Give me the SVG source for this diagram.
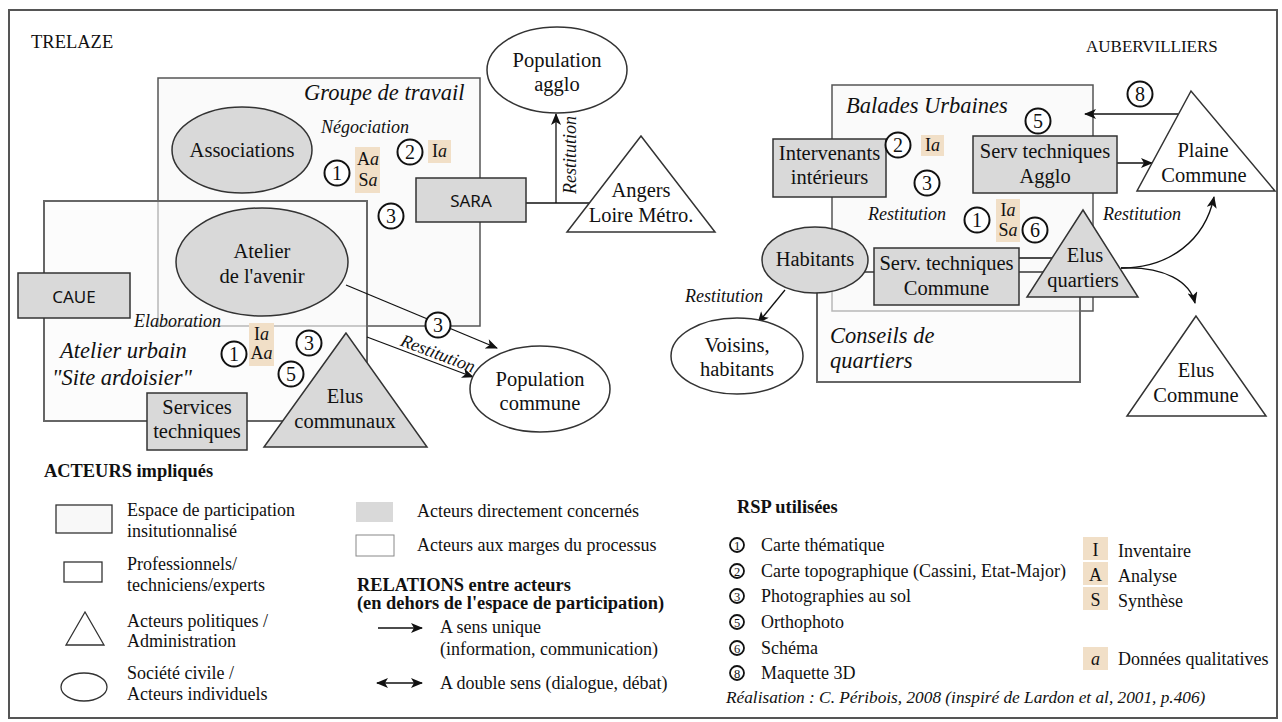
<svg xmlns="http://www.w3.org/2000/svg" width="1282" height="722" viewBox="0 0 1282 722">
<defs>
<marker id="arr" viewBox="0 0 12 10" refX="11" refY="5" markerWidth="13" markerHeight="10" markerUnits="userSpaceOnUse" orient="auto-start-reverse">
<path d="M0,0 L12,5 L0,10 L3,5 Z" fill="#111"/>
</marker>
</defs>
<style>
text{font-family:"Liberation Serif","Times New Roman",serif;fill:#111}
.lbl{font-size:20.5px;text-anchor:middle}
.sans{font-family:"Noto Sans","DejaVu Sans",sans-serif;font-size:17px;text-anchor:middle}
.it{font-style:italic}
.spl{font-size:22.5px;font-style:italic}
.sm{font-size:18px;font-style:italic}
.gray{fill:#d9d9d9;stroke:#333;stroke-width:1.5}
.white{fill:#fff;stroke:#333;stroke-width:1.5}
.space{fill:#fafafa;stroke:#555;stroke-width:1.5}
.space2{fill:#fafafa;fill-opacity:0.6;stroke:#666;stroke-width:2}
.num circle{fill:#fff;stroke:#111;stroke-width:2}
.num text{font-size:20px;text-anchor:middle}
.tan{fill:#f1dfc7}
.tt{font-size:18px;text-anchor:middle}
.conn{fill:none;stroke:#111;stroke-width:1.3}
.leg{font-size:18px}
.legb{font-size:18.4px;font-weight:bold}
.lnum circle{fill:#fff;stroke:#111;stroke-width:1.8}
.lnum text{font-size:12.5px;text-anchor:middle}
</style>

<rect x="9" y="10" width="1268" height="708" fill="#fff" stroke="#555" stroke-width="2"/>

<text x="31" y="48" style="font-size:18.5px">TRELAZE</text>
<text x="1086" y="52" style="font-size:17px">AUBERVILLIERS</text>

<!-- participation spaces -->
<g id="groupe-travail">
<rect class="space" x="158" y="78" width="322" height="248"/>
<text class="spl" x="304" y="100">Groupe de travail</text>
</g>
<g id="atelier-urbain">
<rect class="space2" x="44" y="201" width="323" height="220"/>
<text class="spl" x="60" y="358">Atelier urbain</text>
<text class="spl" x="52" y="385">"Site ardoisier"</text>
</g>
<g id="balades-urbaines">
<rect class="space" x="832" y="85" width="261" height="226"/>
<text class="spl" x="846" y="113">Balades Urbaines</text>
</g>
<g id="conseils-quartiers">
<rect class="space2" x="817" y="272" width="263" height="110"/>
<text class="spl" x="830" y="343">Conseils de</text>
<text class="spl" x="830" y="368">quartiers</text>
</g>

<!-- connectors -->
<g id="connectors">
<line class="conn" x1="526" y1="203" x2="589" y2="203"/>
<line class="conn" x1="556" y1="203" x2="556" y2="114" marker-end="url(#arr)"/>
<line class="conn" x1="346" y1="285" x2="497" y2="348" marker-end="url(#arr)"/>
<line class="conn" x1="367" y1="337" x2="473" y2="377" marker-end="url(#arr)"/>
<line class="conn" x1="785" y1="290" x2="758" y2="323" marker-end="url(#arr)"/>
<line class="conn" x1="1178" y1="114" x2="1085" y2="114" marker-end="url(#arr)"/>
<line class="conn" x1="1117" y1="163" x2="1152" y2="163" marker-end="url(#arr)"/>
<line class="conn" x1="1019" y1="258" x2="1052" y2="258"/>
<path class="conn" d="M1121,268 C1170,268 1205,240 1214,197" marker-end="url(#arr)"/>
<path class="conn" d="M1121,268 C1165,266 1190,282 1195,303" marker-end="url(#arr)"/>
</g>

<!-- Trelaze nodes -->
<g id="associations">
<ellipse class="gray" cx="242" cy="150" rx="70" ry="43"/>
<text class="lbl" x="242" y="157">Associations</text>
</g>
<g id="population-agglo">
<ellipse class="white" cx="557" cy="70" rx="70" ry="43"/>
<text class="lbl" x="557" y="67">Population</text>
<text class="lbl" x="557" y="91">agglo</text>
</g>
<g id="sara">
<rect class="gray" x="416" y="178" width="110" height="44"/>
<text class="sans" x="471" y="207">SARA</text>
</g>
<g id="angers-loire-metro">
<polygon class="white" points="641,136 567,232 715,232"/>
<text class="lbl" x="641" y="197">Angers</text>
<text class="lbl" x="641" y="222">Loire Métro.</text>
</g>
<g id="atelier-avenir">
<ellipse class="gray" cx="262" cy="262" rx="86" ry="54"/>
<text class="lbl" x="262" y="258">Atelier</text>
<text class="lbl" x="262" y="283">de l'avenir</text>
</g>
<g id="caue">
<rect class="gray" x="18" y="273" width="112" height="45"/>
<text class="sans" x="74" y="303">CAUE</text>
</g>
<g id="services-techniques">
<rect class="gray" x="147" y="393" width="100" height="57"/>
<text class="lbl" x="197" y="414">Services</text>
<text class="lbl" x="197" y="438">techniques</text>
</g>
<g id="elus-communaux">
<polygon class="gray" points="346,333 264,447 427,447"/>
<text class="lbl" x="345" y="403">Elus</text>
<text class="lbl" x="345" y="428">communaux</text>
</g>
<g id="population-commune">
<ellipse class="white" cx="540" cy="389" rx="70" ry="43"/>
<text class="lbl" x="540" y="386">Population</text>
<text class="lbl" x="540" y="410">commune</text>
</g>

<!-- Aubervilliers nodes -->
<g id="intervenants-interieurs">
<rect class="gray" x="773" y="139" width="113" height="58"/>
<text class="lbl" x="829.5" y="160">Intervenants</text>
<text class="lbl" x="829.5" y="184">intérieurs</text>
</g>
<g id="serv-techniques-agglo">
<rect class="gray" x="973" y="136" width="144" height="57"/>
<text class="lbl" x="1045" y="158">Serv techniques</text>
<text class="lbl" x="1045" y="183">Agglo</text>
</g>
<g id="plaine-commune">
<polygon class="white" points="1191,91 1137,191 1275,191"/>
<text class="lbl" x="1203" y="157">Plaine</text>
<text class="lbl" x="1204" y="182">Commune</text>
</g>
<g id="habitants">
<ellipse class="gray" cx="815" cy="260" rx="53" ry="33"/>
<text class="lbl" x="815" y="266">Habitants</text>
</g>
<g id="serv-techniques-commune">
<rect class="gray" x="874" y="248" width="145" height="57"/>
<text class="lbl" x="946.5" y="270">Serv. techniques</text>
<text class="lbl" x="946.5" y="295">Commune</text>
</g>
<g id="elus-quartiers">
<polygon class="gray" points="1083,210 1027,297 1138,297"/>
<text class="lbl" x="1085" y="262">Elus</text>
<text class="lbl" x="1083" y="287">quartiers</text>
</g>
<g id="voisins-habitants">
<ellipse class="white" cx="737" cy="356" rx="66" ry="38"/>
<text class="lbl" x="737" y="352">Voisins,</text>
<text class="lbl" x="737" y="376">habitants</text>
</g>
<g id="elus-commune">
<polygon class="white" points="1196,316 1127,416 1266,416"/>
<text class="lbl" x="1196" y="377">Elus</text>
<text class="lbl" x="1196" y="402">Commune</text>
</g>

<!-- relation labels -->
<g id="labels">
<text class="sm" x="321" y="133">Négociation</text>
<text class="sm" x="134" y="327">Elaboration</text>
<text class="sm" text-anchor="middle" transform="translate(576,155) rotate(-90)">Restitution</text>
<text class="sm" text-anchor="middle" transform="translate(436,359) rotate(20.7)">Restitution</text>
<text class="sm" x="685" y="302">Restitution</text>
<text class="sm" x="868" y="220">Restitution</text>
<text class="sm" x="1103" y="220">Restitution</text>
</g>

<!-- RSP markers -->
<g id="rsp-marks">
<rect class="tan" x="355" y="147" width="25" height="46"/>
<text class="tt" x="368" y="165">A<tspan class="it">a</tspan></text>
<text class="tt" x="368" y="186">S<tspan class="it">a</tspan></text>
<rect class="tan" x="428" y="140" width="23" height="23"/>
<text class="tt" x="439.5" y="157">I<tspan class="it">a</tspan></text>
<rect class="tan" x="249" y="323" width="25" height="43"/>
<text class="tt" x="261.5" y="340">I<tspan class="it">a</tspan></text>
<text class="tt" x="261.5" y="359">A<tspan class="it">a</tspan></text>
<rect class="tan" x="921" y="135" width="23" height="21"/>
<text class="tt" x="932.5" y="151">I<tspan class="it">a</tspan></text>
<rect class="tan" x="996" y="199" width="24" height="43"/>
<text class="tt" x="1008" y="216">I<tspan class="it">a</tspan></text>
<text class="tt" x="1008" y="236">S<tspan class="it">a</tspan></text>
<g class="num">
<circle cx="337" cy="173" r="12.5"/><text x="337" y="180">1</text>
<circle cx="410" cy="152" r="12.5"/><text x="410" y="159">2</text>
<circle cx="391" cy="216" r="12.5"/><text x="391" y="223">3</text>
<circle cx="438" cy="325" r="12.5"/><text x="438" y="332">3</text>
<circle cx="234" cy="354" r="12.5"/><text x="234" y="361">1</text>
<circle cx="309" cy="343" r="12.5"/><text x="309" y="350">3</text>
<circle cx="291" cy="374" r="12.5"/><text x="291" y="381">5</text>
<circle cx="898" cy="145" r="12.5"/><text x="898" y="152">2</text>
<circle cx="927" cy="183" r="12.5"/><text x="927" y="190">3</text>
<circle cx="1038" cy="121" r="12.5"/><text x="1038" y="128">5</text>
<circle cx="1140" cy="94" r="12.5"/><text x="1140" y="101">8</text>
<circle cx="977" cy="220" r="12.5"/><text x="977" y="227">1</text>
<circle cx="1035" cy="230" r="12.5"/><text x="1035" y="237">6</text>
</g>
</g>

<!-- legend -->
<g id="legend-acteurs">
<text class="legb" x="44" y="477">ACTEURS impliqués</text>
<rect x="56" y="505" width="56" height="28" fill="#f8f8f8" stroke="#333" stroke-width="1.3"/>
<text class="leg" x="127" y="516">Espace de participation</text>
<text class="leg" x="127" y="537">insitutionnalisé</text>
<rect x="64" y="562" width="38" height="20" fill="#fff" stroke="#333" stroke-width="1.3"/>
<text class="leg" x="127" y="570">Professionnels/</text>
<text class="leg" x="127" y="591">techniciens/experts</text>
<polygon points="85,612 66,645 104,645" fill="#fff" stroke="#333" stroke-width="1.3"/>
<text class="leg" x="127" y="627">Acteurs politiques /</text>
<text class="leg" x="127" y="647">Administration</text>
<ellipse cx="84" cy="687" rx="23" ry="14" fill="#fff" stroke="#333" stroke-width="1.3"/>
<text class="leg" x="127" y="679">Société civile /</text>
<text class="leg" x="127" y="700">Acteurs individuels</text>
</g>
<g id="legend-concernes">
<rect x="356" y="502" width="37" height="20" fill="#d9d9d9"/>
<text class="leg" x="417" y="517">Acteurs directement concernés</text>
<rect x="356" y="535" width="38" height="21" fill="#fff" stroke="#888" stroke-width="1"/>
<text class="leg" x="417" y="551">Acteurs aux marges du processus</text>
</g>
<g id="legend-relations">
<text class="legb" x="357" y="591">RELATIONS entre acteurs</text>
<text class="legb" x="357" y="609">(en dehors de l'espace de participation)</text>
<line class="conn" x1="378" y1="628" x2="422" y2="628" marker-end="url(#arr)"/>
<text class="leg" x="440" y="633">A sens unique</text>
<text class="leg" x="440" y="655">(information, communication)</text>
<line class="conn" x1="377" y1="683" x2="422" y2="683" marker-start="url(#arr)" marker-end="url(#arr)"/>
<text class="leg" x="440" y="689">A double sens (dialogue, débat)</text>
</g>
<g id="legend-rsp">
<text class="legb" x="737" y="513">RSP utilisées</text>
<g class="lnum">
<circle cx="737" cy="545" r="7"/><text x="737" y="549.5">1</text>
<circle cx="737" cy="571" r="7"/><text x="737" y="575.5">2</text>
<circle cx="737" cy="596" r="7"/><text x="737" y="600.5">3</text>
<circle cx="737" cy="622" r="7"/><text x="737" y="626.5">5</text>
<circle cx="737" cy="648" r="7"/><text x="737" y="652.5">6</text>
<circle cx="737" cy="673" r="7"/><text x="737" y="677.5">8</text>
</g>
<text class="leg" x="761" y="551">Carte thématique</text>
<text class="leg" x="761" y="577">Carte topographique (Cassini, Etat-Major)</text>
<text class="leg" x="761" y="602">Photographies au sol</text>
<text class="leg" x="761" y="628">Orthophoto</text>
<text class="leg" x="761" y="654">Schéma</text>
<text class="leg" x="761" y="679">Maquette 3D</text>
</g>
<g id="legend-demarche">
<rect class="tan" x="1083" y="537" width="25" height="23"/>
<text class="tt" x="1095.5" y="556">I</text>
<text class="leg" x="1118" y="557">Inventaire</text>
<rect class="tan" x="1083" y="562" width="25" height="23"/>
<text class="tt" x="1095.5" y="581">A</text>
<text class="leg" x="1118" y="582">Analyse</text>
<rect class="tan" x="1083" y="587" width="25" height="23"/>
<text class="tt" x="1095.5" y="606">S</text>
<text class="leg" x="1118" y="607">Synthèse</text>
<rect class="tan" x="1083" y="647" width="25" height="23"/>
<text class="tt it" x="1095.5" y="665">a</text>
<text class="leg" x="1118" y="665">Données qualitatives</text>
</g>
<text class="it" x="726" y="703" style="font-size:17.3px">Réalisation : C. Péribois, 2008 (inspiré de Lardon et al, 2001, p.406)</text>
</svg>
